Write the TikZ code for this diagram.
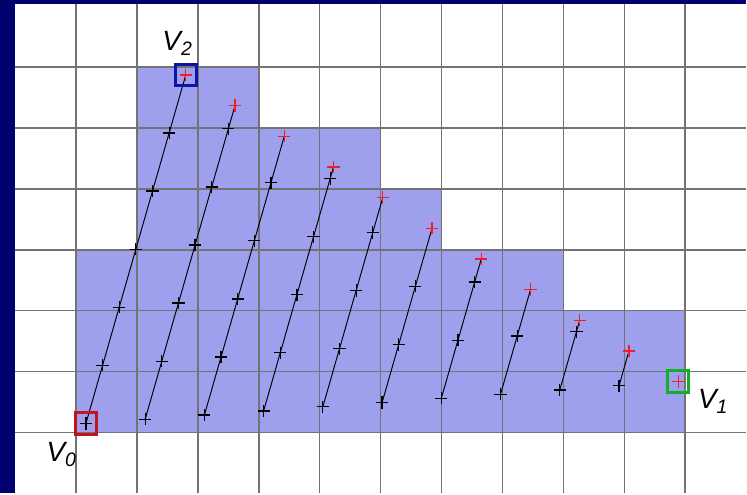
\documentclass[tikz,border=0pt]{standalone}
\usepackage{fontspec}
\setsansfont{Liberation Sans}
\usepackage{xcolor}
\usetikzlibrary{calc}

\definecolor{slideblue}{RGB}{0,0,110}
\definecolor{fillblue}{RGB}{158,160,237}
\definecolor{gridgray}{RGB}{115,115,115}
\definecolor{markred}{RGB}{240,30,40}
\definecolor{boxred}{RGB}{195,20,30}
\definecolor{boxblue}{RGB}{10,20,170}
\definecolor{boxgreen}{RGB}{20,175,40}

\tikzset{
  pmark/.pic={\draw[line width=0.6pt] (-0.1,0) -- (0.1,0) (0,-0.1) -- (0,0.1);}
}

\begin{document}
\begin{tikzpicture}[
  gridline/.style={gridgray, line width=0.75pt},
  scan/.style={black, line width=0.45pt},
  vbox/.style={draw, line width=1.4pt, minimum size=0.35cm, inner sep=0pt},
  vlabel/.style={font=\sffamily\itshape\fontsize{13}{15}\selectfont, inner sep=0pt}
]
% background and grid
\fill[slideblue] (-0.246,0) rectangle (12,8.098);
\fill[white] (0,0) rectangle (12,8.032);
\fill[fillblue] (1,1) -| (11,3) -| (9,4) -| (7,5) -| (6,6) -| (4,7) -| (2,4) -| (1,1) -- cycle;
\foreach \x in {1,...,11} \draw[gridline] (\x,0) -- (\x,8.032);
\foreach \y in {1,...,7} \draw[gridline] (0,\y) -- (12,\y);

% triangle vertices
\coordinate (v0) at (1.164,1.148);
\coordinate (v1) at (10.885,1.836);
\coordinate (v2) at (2.803,6.869);

% scan lines with sample points
\foreach \i in {0,...,9} {
  \pgfmathsetmacro\f{1-\i/10}
  \pgfmathtruncatemacro\n{floor(6*\f+0.001)}
  \coordinate (b\i) at ($(v0)!\i/10!(v1)$);
  \coordinate (t\i) at ($(v2)!\i/10!(v1)$);
  \draw[scan] (b\i) -- (t\i);
  \foreach \k in {0,...,\n} {
    \pgfmathsetmacro\s{\k/(6*\f)}
    \path ($(b\i)!\s!(t\i)$) pic[black] {pmark};
  }
  \path (t\i) pic[markred] {pmark};
}
\path (v1) pic[markred] {pmark};

% vertex boxes and labels
\node[vbox, draw=boxred] (box0) at (v0) {};
\node[vbox, draw=boxgreen] (box1) at (v1) {};
\node[vbox, draw=boxblue] (box2) at (v2) {};
\node[vlabel] (lab0) at (0.77,0.64) {V\textsubscript{0}};
\node[vlabel] (lab1) at (11.46,1.51) {V\textsubscript{1}};
\node[vlabel] (lab2) at (2.67,7.38) {V\textsubscript{2}};
\end{tikzpicture}
\end{document}
